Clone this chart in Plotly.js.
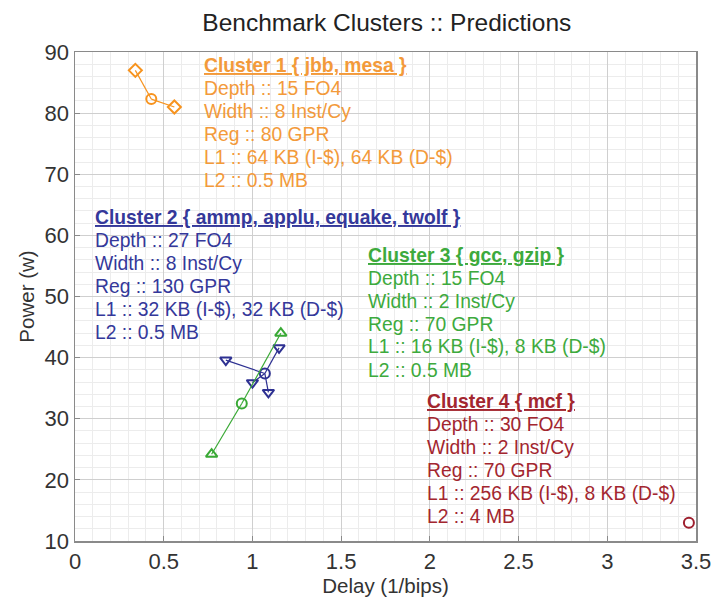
<!DOCTYPE html>
<html>
<head>
<meta charset="utf-8">
<script src="https://cdn.plot.ly/plotly-3.0.1.min.js"></script>
<style>html,body{margin:0;padding:0;background:#fff;}#chart{width:715px;height:599px;}</style>
</head>
<body>
<div id="chart"></div>
<script>
// Cluster centroids (circle markers) and members
const clusterNames = ["Cluster 1 { jbb, mesa }", "Cluster 2 { ammp, applu, equake, twolf }", "Cluster 3 { gcc, gzip }", "Cluster 4 { mcf }"];
const centroidX = [0.43, 1.07, 0.94, 3.46];
const centroidY = [82.3, 37.4, 32.5, 13.0];
const c1MemberX = [0.34, 0.56];
const c1MemberY = [87.0, 81.0];
const c2MemberX = [0.85, 1.00, 1.09, 1.15];
const c2MemberY = [39.6, 35.9, 34.3, 41.6];
const c3MemberX = [0.77, 1.16];
const c3MemberY = [24.2, 44.0];
const c4MemberX = [];
const c4MemberY = [];
const clusterInfo = [
  ["Depth :: 15 FO4", "Width :: 8 Inst/Cy", "Reg :: 80 GPR", "L1 :: 64 KB (I-$), 64 KB (D-$)", "L2 :: 0.5 MB"],
  ["Depth :: 27 FO4", "Width :: 8 Inst/Cy", "Reg :: 130 GPR", "L1 :: 32 KB (I-$), 32 KB (D-$)", "L2 :: 0.5 MB"],
  ["Depth :: 15 FO4", "Width :: 2 Inst/Cy", "Reg :: 70 GPR", "L1 :: 16 KB (I-$), 8 KB (D-$)", "L2 :: 0.5 MB"],
  ["Depth :: 30 FO4", "Width :: 2 Inst/Cy", "Reg :: 70 GPR", "L1 :: 256 KB (I-$), 8 KB (D-$)", "L2 :: 4 MB"]
];
const xTickVals = [0, 0.5, 1, 1.5, 2, 2.5, 3, 3.5];
const xTickText = ["0", "0.5", "1", "1.5", "2", "2.5", "3", "3.5"];
const yTickVals = [10, 20, 30, 40, 50, 60, 70, 80, 90];
const yTickText = ["10", "20", "30", "40", "50", "60", "70", "80", "90"];

const colors = ["#F7931E", "#2E3192", "#39A935", "#9E1F2E"];
const textColors = ["#F39A3A", "#34389A", "#3DAA3D", "#A3262F"];
const memberSymbols = ["diamond-open", "triangle-down-open", "triangle-up-open", "circle-open"];
// text block placement in pixels: left edge, first line centre
const blockPx = [[202, 65], [93, 217], [366, 255], [425, 401]];
const lineStep = 23;
const plotL = 75, plotW = 621, plotB = 541, plotH = 489;
const FONT = "Arial, 'Liberation Sans', sans-serif";

const membersX = [c1MemberX, c2MemberX, c3MemberX, c4MemberX];
const membersY = [c1MemberY, c2MemberY, c3MemberY, c4MemberY];

const traces = [];
for (let i = 0; i < 4; i++) {
  const lx = [], ly = [];
  for (let j = 0; j < membersX[i].length; j++) {
    lx.push(centroidX[i], membersX[i][j], null);
    ly.push(centroidY[i], membersY[i][j], null);
  }
  if (lx.length) {
    traces.push({x: lx, y: ly, mode: "lines", type: "scatter", line: {color: colors[i], width: 1.2}, hoverinfo: "skip", showlegend: false});
  }
  traces.push({x: membersX[i], y: membersY[i], mode: "markers", type: "scatter",
    marker: {symbol: memberSymbols[i], size: 10, color: colors[i], line: {color: colors[i], width: 2}}, showlegend: false});
  traces.push({x: [centroidX[i]], y: [centroidY[i]], mode: "markers", type: "scatter",
    marker: {symbol: "circle-open", size: 10, color: colors[i], line: {color: colors[i], width: 2}}, showlegend: false});
}

const annotations = [];
clusterNames.forEach((n, i) => {
  const lines = ["<b><u>" + n + "</u></b>"].concat(clusterInfo[i]);
  lines.forEach((t, k) => {
    annotations.push({
      xref: "paper", yref: "paper",
      x: (blockPx[i][0] - plotL) / plotW,
      y: (plotB - (blockPx[i][1] + k * lineStep)) / plotH,
      xanchor: "left", yanchor: "middle", align: "left", showarrow: false,
      text: t, font: {family: FONT, size: 19.3, color: textColors[i]}
    });
  });
});

const axisCommon = {
  showline: true, linecolor: "#8a8a8a", linewidth: 1.5, mirror: true,
  showgrid: true, gridcolor: "#cfcfcf", gridwidth: 1,
  ticks: "inside", ticklen: 5, tickcolor: "#8a8a8a",
  zeroline: false,
  tickfont: {family: FONT, size: 22, color: "#333"}
};

const layout = {
  width: 715, height: 599,
  margin: {l: 75, r: 19, t: 52, b: 58},
  paper_bgcolor: "#fff", plot_bgcolor: "#fff",
  title: {text: "Benchmark Clusters :: Predictions", x: 0.541, xanchor: "center", y: 0.962, yanchor: "middle",
    font: {family: FONT, size: 24.5, color: "#222"}},
  xaxis: Object.assign({}, axisCommon, {range: [0, 3.5], tickvals: xTickVals, ticktext: xTickText,
    minor: {dtick: 0.1, showgrid: true, gridcolor: "#ececec", gridwidth: 1},
    title: {text: "Delay (1/bips)", standoff: 2, font: {family: FONT, size: 20.5, color: "#333"}}}),
  yaxis: Object.assign({}, axisCommon, {range: [10, 90], tickvals: yTickVals, ticktext: yTickText,
    minor: {dtick: 2, showgrid: true, gridcolor: "#ececec", gridwidth: 1},
    title: {text: "Power (w)", standoff: 4, font: {family: FONT, size: 20.5, color: "#333"}}}),
  annotations: annotations
};

Plotly.newPlot("chart", traces, layout, {displayModeBar: false, staticPlot: true});
</script>
</body>
</html>
